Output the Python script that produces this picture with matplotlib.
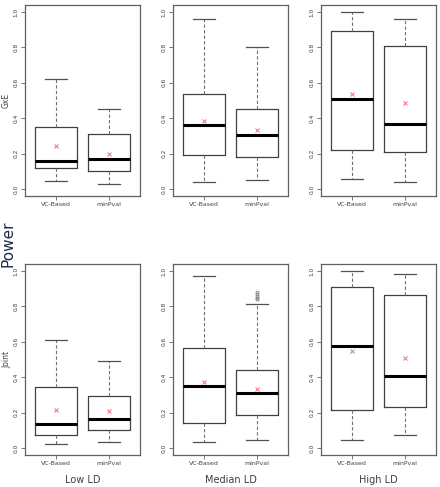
import matplotlib.pyplot as plt
import numpy as np

groups = ["VC-Based", "minPval"]
ld_levels = ["Low LD", "Median LD", "High LD"]
row_names = ["GxE", "Joint"]

# box stats per panel: [VC-Based, minPval]
gxe_lo = [[0.047, 0.030], [0.040, 0.049], [0.058, 0.040]]
gxe_q1 = [[0.119, 0.102], [0.190, 0.181], [0.218, 0.209]]
gxe_med = [[0.160, 0.169], [0.360, 0.303], [0.510, 0.369]]
gxe_q3 = [[0.350, 0.311], [0.537, 0.452], [0.891, 0.806]]
gxe_hi = [[0.621, 0.454], [0.960, 0.802], [1.000, 0.960]]
gxe_mean = [[0.245, 0.200], [0.384, 0.333], [0.537, 0.486]]

joint_lo = [[0.024, 0.036], [0.036, 0.045], [0.045, 0.073]]
joint_q1 = [[0.073, 0.101], [0.142, 0.185], [0.217, 0.234]]
joint_med = [[0.133, 0.163], [0.348, 0.310], [0.579, 0.404]]
joint_q3 = [[0.342, 0.292], [0.564, 0.439], [0.908, 0.864]]
joint_hi = [[0.611, 0.493], [0.970, 0.811], [0.998, 0.981]]
joint_mean = [[0.213, 0.206], [0.374, 0.336], [0.546, 0.508]]
joint_fliers = [[[], []], [[], [0.84, 0.85, 0.86, 0.87, 0.88]], [[], []]]

rows = [
    (gxe_lo, gxe_q1, gxe_med, gxe_q3, gxe_hi, gxe_mean, [[[], []]] * 3),
    (joint_lo, joint_q1, joint_med, joint_q3, joint_hi, joint_mean, joint_fliers),
]

fig = plt.figure(figsize=(4.4, 4.87), dpi=100)
W, H = 440, 487
lefts = [25, 173, 321]
tops = [5, 264]
aw, ah = 115, 191

frame = '#606060'
for r, (lo, q1, med, q3, hi, mn, fl) in enumerate(rows):
    for c in range(3):
        ax = fig.add_axes([lefts[c] / W, 1 - (tops[r] + ah) / H, aw / W, ah / H])
        stats = []
        for g in range(2):
            stats.append(dict(whislo=lo[c][g], q1=q1[c][g], med=med[c][g],
                              q3=q3[c][g], whishi=hi[c][g], fliers=fl[c][g]))
        ax.bxp(stats, positions=[1, 2], widths=0.8, showfliers=True,
               boxprops=dict(color='#404040', linewidth=0.9),
               medianprops=dict(color='black', linewidth=2.2),
               whiskerprops=dict(color='#707070', linewidth=0.8, linestyle=(0, (3, 2))),
               capprops=dict(color='#505050', linewidth=0.9),
               flierprops=dict(marker='o', markersize=2.2, markerfacecolor='none',
                               markeredgecolor='#707070', markeredgewidth=0.5))
        ax.plot([1, 2], mn[c], linestyle='none', marker='x', markersize=3.2,
                color='#e8707a', markeredgewidth=0.7)
        ax.set_xlim(0.42, 2.58)
        ax.set_ylim(-0.04, 1.04)
        ax.set_yticks([0.0, 0.2, 0.4, 0.6, 0.8, 1.0])
        ax.set_yticklabels(['0.0', '0.2', '0.4', '0.6', '0.8', '1.0'],
                           rotation=90, va='center', fontsize=4.2, color='#404040')
        ax.set_xticks([1, 2])
        ax.set_xticklabels(groups, fontsize=4.5, color='#404040')
        ax.tick_params(length=3, width=0.6, color='#606060', pad=1.5)
        for s in ax.spines.values():
            s.set_color(frame)
            s.set_linewidth(0.9)
        if c == 0:
            ax.set_ylabel(row_names[r], fontsize=5.5, color='#404040', labelpad=2)
        if r == 1:
            ax.set_xlabel(ld_levels[c], fontsize=7, color='#404040', labelpad=6)

fig.text(0.002, 0.5, "Power", rotation=90, fontsize=11, color='#1c2b4a',
         ha='left', va='center')

fig.savefig('out.png', dpi=100)
